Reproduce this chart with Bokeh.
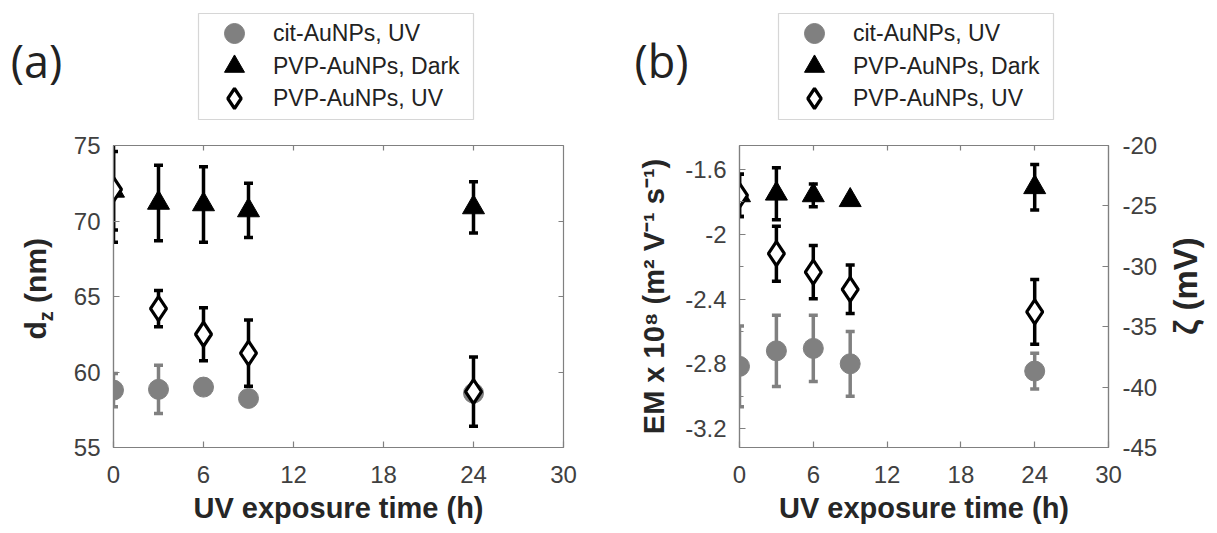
import math
from bokeh.plotting import figure
from bokeh.models import (ColumnDataSource, Whisker, TeeHead, Range1d, LinearAxis, BoxAnnotation,
                          FixedTicker, Legend, LegendItem, Label, CustomJSTickFormatter)
from bokeh.layouts import row, column
from bokeh.embed import file_html
from bokeh.resources import INLINE

# ---------------- data ----------------
time_h = [0, 3, 6, 9, 24]
x_ticks = [0, 6, 12, 18, 24, 30]

# (a) hydrodynamic diameter d_z (nm)
dz_cit_uv = [58.8, 58.85, 59.0, 58.25, 58.6]
dz_cit_uv_err = [1.1, 1.6, 0.3, 0.3, 0.4]
dz_pvp_dark = [72.0, 71.2, 71.1, 70.7, 70.9]
dz_pvp_dark_err = [2.6, 2.5, 2.5, 1.8, 1.7]
dz_pvp_uv = [72.1, 64.2, 62.5, 61.25, 58.7]
dz_pvp_uv_err = [3.5, 1.2, 1.75, 2.2, 2.3]
dz_ticks = [55, 60, 65, 70, 75]

# (b) electrophoretic mobility EM x 10^8 (m^2 V^-1 s^-1)
em_cit_uv = [-2.816, -2.72, -2.705, -2.80, -2.845]
em_cit_uv_err = [0.25, 0.22, 0.205, 0.2, 0.11]
em_pvp_dark = [-1.76, -1.75, -1.76, -1.79, -1.71]
em_pvp_dark_err = [0.13, 0.16, 0.07, 0.02, 0.14]
em_pvp_uv = [-1.76, -2.12, -2.234, -2.34, -2.48]
em_pvp_uv_err = [0.13, 0.17, 0.165, 0.15, 0.2]
em_ticks = [-3.2, -2.8, -2.4, -2.0, -1.6]
em_minor = [-3.0, -2.6, -2.2, -1.8]
zeta_ticks = [-45, -40, -35, -30, -25, -20]

series_labels = ["cit-AuNPs, UV", "PVP-AuNPs, Dark", "PVP-AuNPs, UV"]
kinds = ["circle", "triangle", "diamond"]

GRAY = "#808080"
AX = "#808080"
TXT = "#404040"
LAB = "#262626"
TICK_FONT = "Liberation Sans"
TICK_SIZE = "24px"


def blank_fmt():
    return CustomJSTickFormatter(code="return ''")


def style_axis(ax, standoff=13):
    ax.axis_line_color = AX
    ax.axis_line_width = 1.2
    ax.major_tick_line_color = AX
    ax.major_tick_line_width = 1.2
    ax.major_tick_in = 6
    ax.major_tick_out = 0
    ax.minor_tick_line_color = None
    ax.major_label_text_font = TICK_FONT
    ax.major_label_text_font_size = TICK_SIZE
    ax.major_label_text_color = TXT
    ax.major_label_standoff = standoff
    ax.axis_label_text_font = TICK_FONT
    ax.axis_label_text_font_style = "bold"
    ax.axis_label_text_color = LAB


def mirror_axis(ax):
    style_axis(ax, standoff=0)
    ax.axis_line_color = None
    ax.major_tick_in = 5
    ax.major_label_text_font_size = "1px"


STYLE = {
    "circle": dict(marker="circle", size=20, fill_color=GRAY, line_color=GRAY),
    "triangle": dict(marker="triangle", size=22, fill_color="black", line_color="black"),
    "diamond": dict(marker="diamond", size=24, fill_color="white", line_color="black",
                    line_width=3.2),
}


def add_series(p, y, err, kind):
    lo = [a - b for a, b in zip(y, err)]
    up = [a + b for a, b in zip(y, err)]
    src = ColumnDataSource(dict(x=time_h, y=y, lo=lo, up=up))
    col = GRAY if kind == "circle" else "black"
    w = Whisker(base="x", lower="lo", upper="up", source=src,
                line_color=col, line_width=3.5,
                lower_head=TeeHead(size=9, line_color=col, line_width=3.5),
                upper_head=TeeHead(size=9, line_color=col, line_width=3.5))
    p.add_layout(w)
    return p.scatter("x", "y", source=src, **STYLE[kind])


def blank_fig(w, h):
    f = figure(frame_width=w, frame_height=h, min_border=0,
               x_range=Range1d(0, 1), y_range=Range1d(0, 1),
               x_axis_type=None, y_axis_type=None,
               output_backend="svg", toolbar_location=None)
    f.outline_line_color = None
    f.background_fill_color = "white"
    f.border_fill_color = "white"
    return f


TOP_H = 123


def top_fig(w, panel_text, text_cx, box_left, box_right, series_y):
    f = blank_fig(w, TOP_H)
    # legend box
    f.add_layout(BoxAnnotation(left=box_left, right=box_right, bottom=TOP_H - 119, top=TOP_H - 13,
                               left_units="screen", right_units="screen",
                               bottom_units="screen", top_units="screen",
                               fill_color=None, line_color="#777777", line_width=1.2))
    row_centers = [33, 65.5, 98]
    for lab, kind, ys, c in zip(series_labels, kinds, series_y, row_centers):
        # renderer only feeds the legend swatch (its points lie outside this strip's ranges)
        r = f.scatter(x=time_h, y=ys, **STYLE[kind])
        lg = Legend(items=[LegendItem(label=lab, renderers=[r])],
                    location=(box_left, round(TOP_H - c - 25)))
        lg.label_text_font = TICK_FONT
        lg.label_text_font_size = "23px"
        lg.label_text_color = "#222222"
        lg.glyph_width = 72
        lg.glyph_height = 50
        lg.label_height = 22
        lg.padding = 0
        lg.margin = 0
        lg.label_standoff = 3
        lg.border_line_color = None
        lg.background_fill_alpha = 0
        f.add_layout(lg)
    f.add_layout(Label(x=text_cx, y=TOP_H - 60, x_units="screen", y_units="screen", text=panel_text,
                       text_font="Open Sans", text_font_size="45px", text_color="#222222",
                       text_baseline="middle", text_align="center"))
    return f


def base_fig(border_left, border_right, frame_w, y_range):
    p = figure(frame_width=frame_w, frame_height=302,
               min_border_left=border_left, min_border_right=border_right,
               min_border_top=22, min_border_bottom=84,
               x_range=Range1d(0, 30), y_range=y_range,
               output_backend="svg", toolbar_location=None)
    p.grid.visible = False
    p.outline_line_color = AX
    p.outline_line_width = 1.2
    p.background_fill_color = "white"
    p.border_fill_color = "white"
    p.xaxis.ticker = FixedTicker(ticks=x_ticks)
    for ax in p.xaxis:
        style_axis(ax, standoff=18)
        ax.axis_label = "UV exposure time (h)"
        ax.axis_label_text_font_size = "29px"
        ax.axis_label_standoff = 6
    top = LinearAxis(ticker=FixedTicker(ticks=[6, 12, 18, 24]), formatter=blank_fmt())
    mirror_axis(top)
    p.add_layout(top, "above")
    return p


# ---------------- panel (a) ----------------
pa = base_fig(45, 45, 450, Range1d(55, 75))
pa.yaxis.ticker = FixedTicker(ticks=dz_ticks)
for ax in pa.yaxis:
    style_axis(ax, standoff=13)
ra = LinearAxis(ticker=FixedTicker(ticks=[60, 65, 70]), formatter=blank_fmt())
mirror_axis(ra)
pa.add_layout(ra, "right")

add_series(pa, dz_cit_uv, dz_cit_uv_err, "circle")
add_series(pa, dz_pvp_dark, dz_pvp_dark_err, "triangle")
add_series(pa, dz_pvp_uv, dz_pvp_uv_err, "diamond")

# ---------------- panel (b) ----------------
pb = base_fig(131, 55, 369, Range1d(-3.317, -1.452))
pb.yaxis.ticker = FixedTicker(ticks=em_ticks, minor_ticks=em_minor)
pb.yaxis.formatter = CustomJSTickFormatter(code="return tick.toFixed(1).replace('.0', '')")
for ax in pb.yaxis:
    style_axis(ax, standoff=13)
    ax.minor_tick_line_color = AX
    ax.minor_tick_in = 4
    ax.minor_tick_out = 0
    ax.axis_label = "EM x 10\u2078 (m\u00b2 V\u207b\u00b9 s\u207b\u00b9)"
    ax.axis_label_text_font_size = "29px"
    ax.axis_label_standoff = 12

pb.extra_y_ranges = {"zeta": Range1d(-45, -20)}
rb = LinearAxis(y_range_name="zeta", ticker=FixedTicker(ticks=zeta_ticks),
                formatter=CustomJSTickFormatter(code="return tick.toFixed(0)"))
style_axis(rb, standoff=14)
pb.add_layout(rb, "right")

add_series(pb, em_cit_uv, em_cit_uv_err, "circle")
add_series(pb, em_pvp_dark, em_pvp_dark_err, "triangle")
add_series(pb, em_pvp_uv, em_pvp_uv_err, "diamond")

# ---------------- label strips ----------------
top_a = top_fig(608, "(a)", 36, 198, 473, [dz_cit_uv, dz_pvp_dark, dz_pvp_uv])
top_b = top_fig(605, "(b)", 53, 170, 445, [em_cit_uv, em_pvp_dark, em_pvp_uv])

BOT_H = 22 + 302 + 84
SHIFT = 30  # empirical vertical correction for the side strips
side_a = blank_fig(68, BOT_H)
for txt, x, cy, fs in [("d", 35, 337.8, "30px"),
                       ("z", 45, 323.7, "20px"),
                       ("(nm)", 35, 277.9, "30px")]:
    side_a.add_layout(Label(x=x, y=531 - cy + SHIFT, x_units="screen", y_units="screen", text=txt,
                            angle=math.pi / 2, text_font=TICK_FONT, text_font_style="bold",
                            text_font_size=fs, text_color=LAB,
                            text_baseline="middle", text_align="center"))

side_b = blank_fig(50, BOT_H)
side_b.add_layout(Label(x=22, y=531 - 293.5 + SHIFT, x_units="screen", y_units="screen",
                        text="\u03b6 (mV)",
                        angle=math.pi / 2, text_font=TICK_FONT, text_font_style="bold",
                        text_font_size="33px", text_color=LAB,
                        text_baseline="middle", text_align="center"))

layout = column(row(top_a, top_b), row(side_a, pa, pb, side_b))
open("out.html", "w").write(file_html(layout, INLINE))
